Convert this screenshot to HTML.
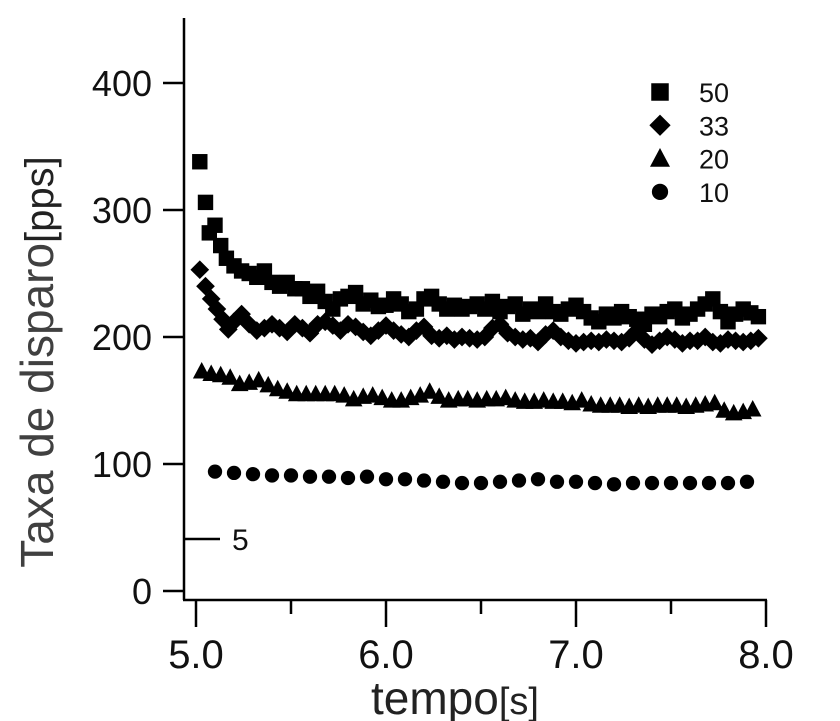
<!DOCTYPE html>
<html><head><meta charset="utf-8"><style>
body{margin:0;background:#fff;}
svg{display:block;font-family:"Liberation Sans",Arial,sans-serif;}
</style></head><body>
<svg id="c" width="840" height="721" viewBox="0 0 840 721">
<g id="axes"></g>
<g id="marks"></g>
<g id="legend"></g>
<text transform="translate(53,362) rotate(-90)" text-anchor="middle" fill="#404040" font-size="46">Taxa de disparo<tspan font-size="40" fill="#222">[pps]</tspan></text>
<text x="455" y="714" text-anchor="middle" fill="#222" font-size="46">tempo<tspan font-size="38">[s]</tspan></text>
</svg>
<script>
const yTicks=[0,100,200,300,400];
const xTicks=[5.0,6.0,7.0,8.0];
const xMinor=[5.5,6.5,7.5];
const xCircle=[5.1,5.2,5.3,5.4,5.5,5.6,5.7,5.8,5.9,6.0,6.1,6.2,6.3,6.4,6.5,6.6,6.7,6.8,6.9,7.0,7.1,7.2,7.3,7.4,7.5,7.6,7.7,7.8,7.9];
const s10=[94,93,92,91,91,90,90,89,90,88,88,87,86,85,85,86,87,88,86,86,85,84,85,85,85,85,85,85,86];
const xTri=[5.03,5.08,5.13,5.18,5.23,5.28,5.33,5.38,5.43,5.48,5.53,5.58,5.63,5.68,5.73,5.78,5.83,5.88,5.93,5.98,6.03,6.08,6.13,6.18,6.23,6.28,6.33,6.38,6.43,6.48,6.53,6.58,6.63,6.68,6.73,6.78,6.83,6.88,6.93,6.98,7.03,7.08,7.13,7.18,7.23,7.28,7.33,7.38,7.43,7.48,7.53,7.58,7.63,7.68,7.73,7.78,7.83,7.88,7.93];
const s20=[173,171,170,168,163,164,166,162,159,157,155,155,155,155,155,154,151,153,154,152,150,150,152,154,157,153,150,151,151,150,151,151,152,150,149,149,150,149,149,148,150,147,146,146,146,145,146,145,146,146,146,145,146,147,148,142,140,141,143];
const xDia=[5.02,5.05,5.08,5.11,5.14,5.17,5.2,5.24,5.28,5.32,5.36,5.4,5.44,5.48,5.52,5.56,5.6,5.64,5.68,5.72,5.76,5.8,5.84,5.88,5.92,5.96,6.0,6.04,6.08,6.12,6.16,6.2,6.24,6.28,6.32,6.36,6.4,6.44,6.48,6.52,6.56,6.6,6.64,6.68,6.72,6.76,6.8,6.84,6.88,6.92,6.96,7.0,7.04,7.08,7.12,7.16,7.2,7.24,7.28,7.32,7.36,7.4,7.44,7.48,7.52,7.56,7.6,7.64,7.68,7.72,7.76,7.8,7.84,7.88,7.92,7.96];
const s33=[253,240,230,222,214,206,212,218,210,205,207,210,207,204,210,207,203,210,212,209,205,210,208,204,201,205,209,205,202,200,205,208,201,199,201,198,200,199,198,200,207,210,203,200,198,199,196,202,205,200,197,195,196,197,196,198,197,196,199,205,198,194,197,200,198,195,197,197,200,196,195,198,197,196,197,199];
const xSq=[5.02,5.05,5.07,5.1,5.13,5.16,5.2,5.24,5.28,5.32,5.36,5.4,5.44,5.48,5.52,5.56,5.6,5.64,5.68,5.72,5.76,5.8,5.84,5.88,5.92,5.96,6.0,6.04,6.08,6.12,6.16,6.2,6.24,6.28,6.32,6.36,6.4,6.44,6.48,6.52,6.56,6.6,6.64,6.68,6.72,6.76,6.8,6.84,6.88,6.92,6.96,7.0,7.04,7.08,7.12,7.16,7.2,7.24,7.28,7.32,7.36,7.4,7.44,7.48,7.52,7.56,7.6,7.64,7.68,7.72,7.76,7.8,7.84,7.88,7.92,7.96];
const s50=[338,306,282,288,272,262,256,252,250,247,252,243,240,243,238,238,232,236,228,222,230,232,235,226,229,224,225,230,226,220,222,230,232,226,222,225,222,224,226,222,228,220,224,226,218,222,220,226,220,218,222,225,220,215,212,218,215,220,216,214,210,218,216,220,222,215,218,222,226,230,220,212,218,222,219,216];
const legendLabels=["50","33","20","10"];
const NS="http://www.w3.org/2000/svg";
const X=v=>196+(v-5)*190;
const Y=v=>591-v*1.27;
function el(p,t,a){const e=document.createElementNS(NS,t);for(const k in a)e.setAttribute(k,a[k]);p.appendChild(e);return e;}
const ax=document.getElementById('axes');
let l=el(ax,'line',{x1:184,y1:18,x2:184,y2:600,stroke:'#000','stroke-width':2.5});


l=el(ax,'line',{x1:183,y1:600,x2:767,y2:600,stroke:'#000','stroke-width':2.5});


yTicks.forEach(v=>{
 const t=el(ax,'line',{x1:163,y1:Y(v),x2:184,y2:Y(v),stroke:'#000','stroke-width':2.5});
 
 
 const tx=el(ax,'text',{x:152,y:Y(v)+13,'text-anchor':'end','font-size':36,fill:'#111'});
 tx.textContent=v;
 
 
});
xTicks.forEach(v=>{
 const t=el(ax,'line',{x1:X(v),y1:600,x2:X(v),y2:627,stroke:'#000','stroke-width':2.5});
 
 
 const tx=el(ax,'text',{x:X(v),y:668,'text-anchor':'middle','font-size':40,fill:'#111'});
 tx.textContent=v.toFixed(1);
 
 
});
xMinor.forEach(v=>{
 const t=el(ax,'line',{x1:X(v),y1:600,x2:X(v),y2:614,stroke:'#000','stroke-width':2.5});
 
 
});
const sb=el(ax,'line',{x1:184,y1:539,x2:220,y2:539,stroke:'#000','stroke-width':2.5});


const sbt=el(ax,'text',{x:232,y:550,'font-size':30,fill:'#111'});
sbt.textContent='5';


function marker(p,type,cx,cy,s){
 let e;
 if(type==='sq')e=el(p,'rect',{x:cx-7*s,y:cy-7*s,width:14*s,height:14*s});
 else if(type==='di')e=el(p,'polygon',{points:`${cx},${cy-8.5*s} ${cx+8.5*s},${cy} ${cx},${cy+8.5*s} ${cx-8.5*s},${cy}`});
 else if(type==='tr')e=el(p,'polygon',{points:`${cx},${cy-8.5*s} ${cx+8*s},${cy+6.5*s} ${cx-8*s},${cy+6.5*s}`});
 else e=el(p,'circle',{cx:cx,cy:cy,r:6.5*s});
 e.setAttribute('fill','#000');
 return e;
}
const mk=document.getElementById('marks');
[[xSq,s50,'sq','point-50'],[xDia,s33,'di','point-33'],[xTri,s20,'tr','point-20'],[xCircle,s10,'ci','point-10']].forEach(([xs,ys,t,n])=>{
 xs.forEach((x,i)=>{const e=marker(mk,t,X(x),Y(ys[i]),1.1);
 
 });
});
const lg=document.getElementById('legend');
['sq','di','tr','ci'].forEach((t,i)=>{
 const cy=92+i*33.3;
 const m=marker(lg,t,660,cy,1.25);
 
 
 const tx=el(lg,'text',{x:699,y:cy+10,'font-size':27,fill:'#111'});
 tx.textContent=legendLabels[i];
 
 
});
</script>
</body></html>
